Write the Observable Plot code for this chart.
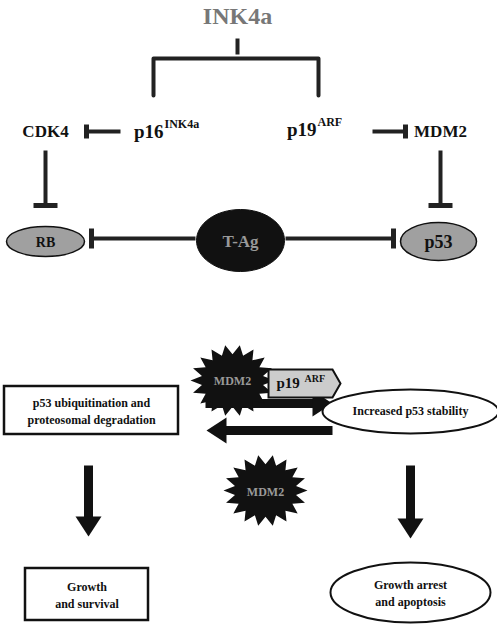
<!DOCTYPE html>
<html><head><meta charset="utf-8">
<script src="https://cdn.jsdelivr.net/npm/d3@7"></script>
<script src="https://cdn.jsdelivr.net/npm/@observablehq/plot@0.6"></script>
<style>body{margin:0;background:#fff}</style>
</head><body><div id="chart"></div>
<script>
// node labels (diagram coordinates in pixel units)
const labels = [
  {t: "INK4a", x: 237, y: 16, s: 24, c: "#777"},
  {t: "CDK4", x: 45, y: 131, s: 17, c: "#111"},
  {t: "MDM2", x: 440, y: 131, s: 17, c: "#111"},
  {t: "RB", x: 45, y: 242, s: 14, c: "#111"},
  {t: "p53", x: 438, y: 242, s: 18, c: "#111"},
  {t: "T-Ag", x: 240, y: 241, s: 17, c: "#999"},
  {t: "Increased p53 stability", x: 410, y: 411, s: 12, c: "#111"},
  {t: "MDM2", x: 232, y: 381, s: 12, c: "#999"},
  {t: "MDM2", x: 265, y: 492, s: 12, c: "#999"}
]
const mainSup = [
  {t: "p16", sup: "INK4a", x: 163, y: 131},
  {t: "p19", sup: "ARF", x: 316, y: 129}
]
const boxes = [
  {lines: "p53 ubiquitination and\nproteosomal degradation", x1: 4, x2: 178, y1: 386, y2: 434},
  {lines: "Growth\nand survival", x1: 25, x2: 148, y1: 568, y2: 620}
]
const ovals = [
  {x: 45, y: 241, rx: 39, ry: 15, fill: "#a0a0a0", sw: 1.5},
  {x: 438, y: 241, rx: 38, ry: 19, fill: "#a0a0a0", sw: 1.5},
  {x: 240, y: 240, rx: 44, ry: 31, fill: "#111", sw: 1},
  {x: 410, y: 411, rx: 88, ry: 22, fill: "#fff", sw: 2},
  {x: 410, y: 592, rx: 80, ry: 30, fill: "#fff", sw: 2}
]
const ovalText = [{t: "Growth arrest\nand apoptosis", x: 410, y: 592}]
const bracket = [[153, 95], [153, 58], [318, 58], [318, 95]]
const links = [
  {x1: 237, y1: 38, x2: 237, y2: 54},
  // inhibition shafts
  {x1: 120, y1: 131, x2: 86, y2: 131},
  {x1: 372, y1: 131, x2: 405, y2: 131},
  {x1: 45, y1: 150, x2: 45, y2: 205},
  {x1: 440, y1: 150, x2: 440, y2: 205},
  {x1: 195, y1: 238, x2: 91, y2: 238},
  {x1: 285, y1: 238, x2: 393, y2: 238}
]
const bars = [
  {x1: 86, y1: 124, x2: 86, y2: 138},
  {x1: 405, y1: 124, x2: 405, y2: 138},
  {x1: 33, y1: 205, x2: 57, y2: 205},
  {x1: 428, y1: 205, x2: 452, y2: 205},
  {x1: 91, y1: 228, x2: 91, y2: 248},
  {x1: 393, y1: 228, x2: 393, y2: 248}
]
// thick arrows: shaft + head (rotation in degrees)
const shafts = [
  {x1: 205, y1: 403, x2: 318, y2: 403},
  {x1: 332, y1: 430, x2: 220, y2: 430},
  {x1: 88, y1: 465, x2: 88, y2: 520},
  {x1: 410, y1: 465, x2: 410, y2: 522}
]
const heads = [
  {x: 318, y: 403, rot: 90},
  {x: 220, y: 430, rot: -90},
  {x: 88, y: 522, rot: 180},
  {x: 410, y: 524, rot: 180}
]
const stars = [{x: 232, y: 380}, {x: 265, y: 490}]
const tag = [{x: 302, y: 383}]

const ellipse = (rx, ry) => ({draw(c) {
  const k = 0.5523
  c.moveTo(rx, 0)
  c.bezierCurveTo(rx, ry * k, rx * k, ry, 0, ry)
  c.bezierCurveTo(-rx * k, ry, -rx, ry * k, -rx, 0)
  c.bezierCurveTo(-rx, -ry * k, -rx * k, -ry, 0, -ry)
  c.bezierCurveTo(rx * k, -ry, rx, -ry * k, rx, 0)
  c.closePath()
}})
const star = {draw(c) {
  const n = 18
  for (let i = 0; i < 2 * n; i++) {
    const a = Math.PI * i / n, r = i % 2 ? 31 : 42
    const px = r * Math.cos(a), py = r * Math.sin(a) * 0.85
    i ? c.lineTo(px, py) : c.moveTo(px, py)
  }
  c.closePath()
}}
const hex = {draw(c) {
  c.moveTo(-34, -14); c.lineTo(30, -14); c.lineTo(38, 0); c.lineTo(30, 14)
  c.lineTo(-34, 14); c.closePath()
}}
const tri = {draw(c) {
  c.moveTo(0, -14); c.lineTo(13, 6); c.lineTo(-13, 6); c.closePath()
}}

const font = "Liberation Serif, serif"
const chart = Plot.plot({
  width: 497, height: 632, margin: 0,
  x: {domain: [0, 497], axis: null},
  y: {domain: [0, 632], reverse: true, axis: null},
  style: {fontFamily: font},
  marks: [
    Plot.line(bracket, {x: d => d[0], y: d => d[1], stroke: "#222", strokeWidth: 4}),
    Plot.link(links, {x1: "x1", y1: "y1", x2: "x2", y2: "y2", stroke: "#222", strokeWidth: 4}),
    Plot.link(bars, {x1: "x1", y1: "y1", x2: "x2", y2: "y2", stroke: "#222", strokeWidth: 5}),
    Plot.link(shafts, {x1: "x1", y1: "y1", x2: "x2", y2: "y2", stroke: "#111", strokeWidth: 9}),
    Plot.dot(heads, {x: "x", y: "y", rotate: "rot", symbol: tri, fill: "#111", r: 10}),
    ...ovals.map(o => Plot.dot([o], {x: "x", y: "y", symbol: ellipse(o.rx, o.ry), fill: o.fill, stroke: "#111", strokeWidth: o.sw, r: 10})),
    Plot.dot(stars, {x: "x", y: "y", symbol: star, fill: "#111", r: 10}),
    Plot.dot(tag, {x: "x", y: "y", symbol: hex, fill: "#ccc", stroke: "#111", strokeWidth: 2, r: 10}),
    Plot.text(tag, {x: d => d.x - 26, y: "y", text: () => "p19", textAnchor: "start", fontSize: 15, fontWeight: "bold", fill: "#111"}),
    Plot.text(tag, {x: d => d.x + 2, y: d => d.y - 5, text: () => "ARF", textAnchor: "start", fontSize: 10, fontWeight: "bold", fill: "#111"}),
    Plot.rect(boxes, {x1: "x1", x2: "x2", y1: "y1", y2: "y2", fill: "#fff", stroke: "#111", strokeWidth: 2.5}),
    Plot.text(boxes, {x: d => (d.x1 + d.x2) / 2, y: d => (d.y1 + d.y2) / 2, text: "lines", fontSize: 12, fontWeight: "bold", fill: "#111", lineHeight: 1.4}),
    Plot.text(ovalText, {x: "x", y: "y", text: "t", fontSize: 12, fontWeight: "bold", fill: "#111", lineHeight: 1.4}),
    Plot.text(labels, {x: "x", y: "y", text: "t", fontSize: "s", fill: "c", fontWeight: "bold"}),
    Plot.text(mainSup, {x: "x", y: "y", text: "t", textAnchor: "end", fontSize: 19, fontWeight: "bold", fill: "#111"}),
    Plot.text(mainSup, {x: d => d.x + 1, y: d => d.y - 7, text: "sup", textAnchor: "start", fontSize: 12, fontWeight: "bold", fill: "#111"})
  ]
})
document.getElementById("chart").append(chart)
</script>
</body></html>
